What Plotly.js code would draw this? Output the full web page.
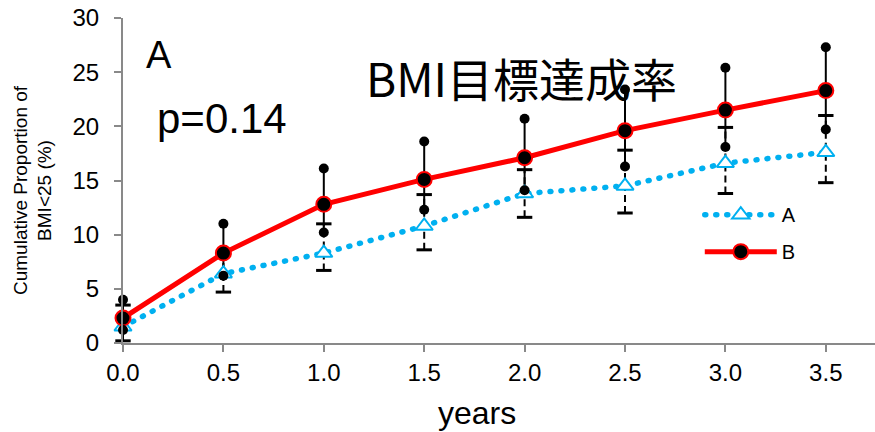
<!DOCTYPE html>
<html>
<head>
<meta charset="utf-8">
<script src="https://cdn.plot.ly/plotly-3.0.1.min.js"></script>
<style>html,body{margin:0;padding:0;background:#fff;}</style>
</head>
<body>
<div id="chart" style="width:875px;height:432px;"></div>
<script>
// ---- data ----
const years = [0, 0.5, 1.0, 1.5, 2.0, 2.5, 3.0, 3.5];
const tickLabels = ["0.0", "0.5", "1.0", "1.5", "2.0", "2.5", "3.0", "3.5"];
// series A (blue dotted, triangles)
const seriesA = [1.5, 6.4, 8.3, 10.8, 13.8, 14.5, 16.6, 17.6];
const seriesA_upper = [3.5, 8.1, 11.0, 13.7, 16.0, 17.8, 19.9, 21.0];
const seriesA_lower = [0.2, 4.7, 6.7, 8.6, 11.6, 12.0, 13.8, 14.8];
// series B (red solid, circles)
const seriesB = [2.3, 8.3, 12.8, 15.1, 17.1, 19.6, 21.5, 23.3];
const seriesB_upper = [4.0, 11.0, 16.1, 18.6, 20.7, 23.4, 25.4, 27.3];
const seriesB_lower = [1.2, 6.2, 10.2, 12.3, 14.1, 16.3, 18.1, 19.7];
const yTicks = [0, 5, 10, 15, 20, 25, 30];

// ---- helpers ----
function segX(xs) { const o = []; xs.forEach(x => { o.push(x, x, null); }); return o; }
function segY(lo, hi) { const o = []; lo.forEach((l, i) => { o.push(l, hi[i], null); }); return o; }

const font = "Liberation Sans, Arial, sans-serif";
const blue = "#00B0F0";

const traces = [
  { // A error bars (dashed)
    x: segX(years), y: segY(seriesA_lower, seriesA_upper), mode: "lines",
    line: {color: "#000", width: 2, dash: "7px,4px"}, showlegend: false, hoverinfo: "skip", cliponaxis: false
  },
  { // A caps
    x: years.concat(years), y: seriesA_lower.concat(seriesA_upper), mode: "markers",
    marker: {symbol: "line-ew", size: 11, line: {color: "#000", width: 3}},
    showlegend: false, hoverinfo: "skip", cliponaxis: false
  },
  { // B error bars (solid)
    x: segX(years), y: segY(seriesB_lower, seriesB_upper), mode: "lines",
    line: {color: "#000", width: 2}, showlegend: false, hoverinfo: "skip", cliponaxis: false
  },
  { // A series
    name: "A", x: years, y: seriesA, mode: "lines+markers", legendgroup: "a",
    line: {color: blue, width: 5.5, dash: "1px,10px"},
    marker: {symbol: "triangle-up", size: 15, color: "#fff", line: {color: blue, width: 2}},
    cliponaxis: false
  },
  { // B series
    name: "B", x: years, y: seriesB, mode: "lines+markers", legendgroup: "b",
    line: {color: "#FF0000", width: 5},
    marker: {symbol: "circle", size: 15, color: "#000", line: {color: "#FF0000", width: 2}},
    cliponaxis: false
  },
  { // B error bar end dots
    x: years.concat(years), y: seriesB_lower.concat(seriesB_upper), mode: "markers",
    marker: {symbol: "circle", size: 10, color: "#000"},
    showlegend: false, hoverinfo: "skip", cliponaxis: false
  }
];

const layout = {
  width: 875, height: 432,
  margin: {l: 123, r: 0, t: 18, b: 89, pad: 0},
  paper_bgcolor: "#fff", plot_bgcolor: "#fff",
  font: {family: font, color: "#000"},
  showlegend: true,
  legend: {x: 0.767, y: 0.455, xanchor: "left", yanchor: "top", font: {size: 20, family: font},
           itemwidth: 72, bgcolor: "rgba(0,0,0,0)", traceorder: "grouped", tracegroupgap: 8},
  xaxis: {
    range: [0, 3.745], tickvals: years, ticktext: tickLabels,
    showline: true, linecolor: "#898989", linewidth: 2,
    ticks: "outside", ticklen: 7, tickwidth: 2, tickcolor: "#898989",
    showgrid: false, zeroline: false,
    tickfont: {size: 24, family: font, color: "#000"}
  },
  yaxis: {
    range: [0, 30], tickvals: yTicks,
    showline: true, linecolor: "#898989", linewidth: 2,
    ticks: "outside", ticklen: 7, tickwidth: 2, tickcolor: "#898989",
    showgrid: false, zeroline: false, ticklabelstandoff: 10,
    tickfont: {size: 24, family: font, color: "#000"}
  },
  annotations: [
    {xref: "paper", yref: "paper", x: -0.12, y: 0.47, xanchor: "center", yanchor: "middle",
     text: "Cumulative Proportion of<br>BMI<25 (%)", textangle: -90, showarrow: false,
     font: {size: 19, family: font, color: "#000"}},
    {xref: "paper", yref: "paper", x: 0.471, y: -0.215, xanchor: "center", yanchor: "middle",
     text: "years", showarrow: false, font: {size: 32, family: font, color: "#000"}},
    {xref: "paper", yref: "paper", x: 0.028, y: 0.885, xanchor: "left", yanchor: "middle",
     text: "A", showarrow: false, font: {size: 38, family: font, color: "#000"}},
    {xref: "paper", yref: "paper", x: 0.043, y: 0.69, xanchor: "left", yanchor: "middle",
     text: "p=0.14", showarrow: false, font: {size: 42, family: font, color: "#000"}},
    {xref: "paper", yref: "paper", x: 0.32, y: 0.817, xanchor: "left", yanchor: "middle",
     text: "BMI目標達成率", showarrow: false, font: {size: 46, family: "Noto Sans CJK JP, sans-serif", color: "#000"}}
  ]
};

Plotly.newPlot("chart", traces, layout, {displayModeBar: false, staticPlot: true}).then(function (gd) {
  // round caps so the dotted A line shows round dots like the reference
  const nodes = document.querySelectorAll("path.js-line");
  nodes.forEach(function (p) {
    const s = p.style.stroke || p.getAttribute("stroke") || "";
    if (s.indexOf("176") >= 0 || s.toLowerCase().indexOf("00b0f0") >= 0) {
      p.style.strokeLinecap = "round";
    }
  });
});
</script>
</body>
</html>
